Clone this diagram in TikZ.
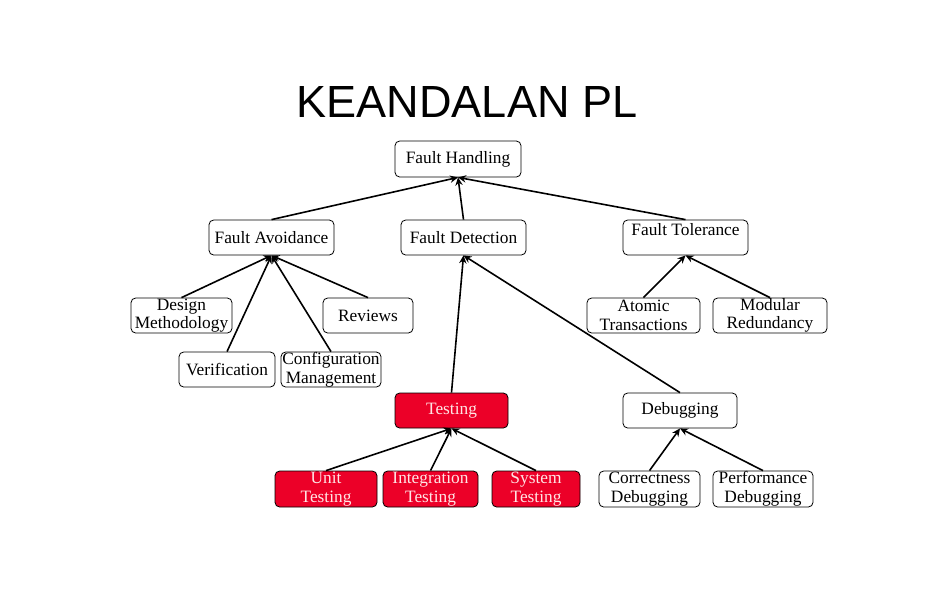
\documentclass[tikz,border=0pt]{standalone}
\usepackage{fontspec}
\setmainfont{Liberation Serif}
\newfontfamily\titlefont{Liberation Sans}
\usetikzlibrary{arrows.meta}
\definecolor{testred}{RGB}{236,0,40}

\tikzset{
  box/.style={draw, rounded corners=3.5pt, line width=0.6pt, fill=white,
    align=center, inner sep=0pt, minimum height=26.25pt,
    font=\fontsize{13}{14}\selectfont},
  redbox/.style={box, fill=testred, text=red!10!white},
  link/.style={-{Stealth[length=6pt,width=5.5pt]}, line width=1.2pt}
}

\begin{document}
\begin{tikzpicture}[x=0.75pt, y=-0.75pt]
  \useasboundingbox (0,0) rectangle (935,612);

  % Title
  \node[font=\titlefont\fontsize{33.8}{40}\selectfont] (title) at (467,102) {KEANDALAN PL};

  % Top levels
  \node[box, minimum width=94.5pt, minimum height=27pt] (fh) at (458,159) {Fault Handling};
  \node[box, minimum width=93.75pt] (fa) at (271.5,237.5) {Fault Avoidance};
  \node[box, minimum width=93.75pt] (fd) at (463.5,237.5) {Fault Detection};
  \node[box, minimum width=93.75pt] (ft) at (685.5,237.5) {Fault Tolerance\\[-2pt]~};

  % Avoidance and tolerance branches
  \node[box, minimum width=75.75pt] (dm) at (181.5,315.5) {Design\\Methodology};
  \node[box, minimum width=67.5pt] (rev) at (368,315.5) {Reviews};
  \node[box, minimum width=72pt] (ver) at (227,369.5) {Verification};
  \node[box, minimum width=75pt] (cm) at (331,369.5) {Configuration\\Management};
  \node[box, minimum width=84.75pt] (at) at (643.5,315.5) {Atomic\\Transactions};
  \node[box, minimum width=85.5pt] (mr) at (770,315.5) {Modular\\Redundancy};

  % Detection branch
  \node[redbox, minimum width=84.75pt] (test) at (451.5,410.5) {Testing};
  \node[box, minimum width=85.5pt] (dbg) at (680,410.5) {Debugging};
  \node[redbox, minimum width=76.5pt, minimum height=27pt] (unit) at (326,489) {Unit\\Testing};
  \node[redbox, minimum width=71.25pt, minimum height=27pt] (integ) at (430.5,489) {Integration\\Testing};
  \node[redbox, minimum width=66pt, minimum height=27pt] (sys) at (536,489) {System\\Testing};
  \node[box, minimum width=75.75pt, minimum height=27pt] (corr) at (649.5,489) {Correctness\\Debugging};
  \node[box, minimum width=75pt, minimum height=27pt] (perf) at (763,489) {Performance\\Debugging};

  % Links
  \foreach \c/\p in {fa/fh, fd/fh, ft/fh, dm/fa, rev/fa, ver/fa, cm/fa,
                     at/ft, mr/ft, test/fd, dbg/fd, unit/test, integ/test,
                     sys/test, corr/dbg, perf/dbg}
    \draw[link] (\c.north) -- (\p.south);
\end{tikzpicture}
\end{document}
